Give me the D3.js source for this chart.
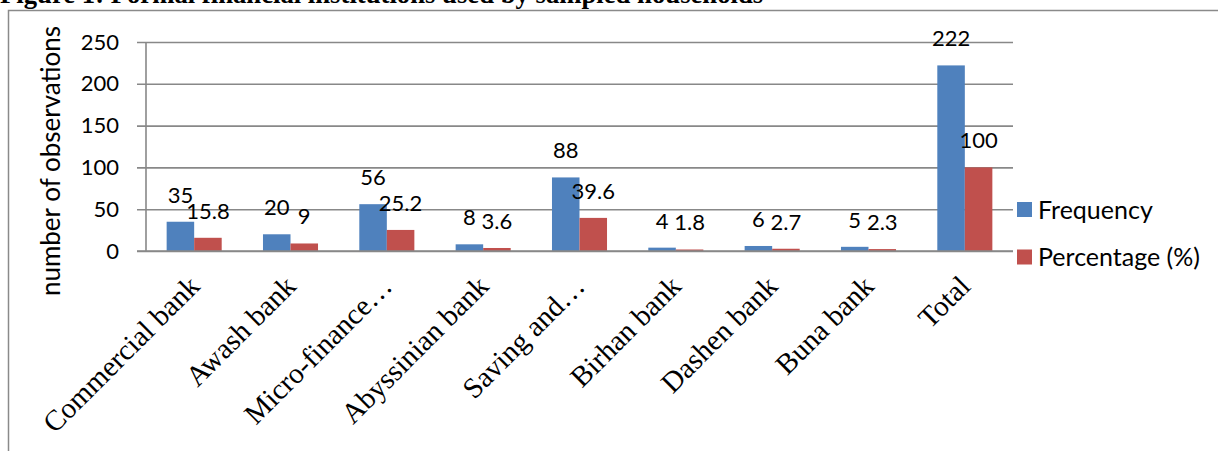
<!DOCTYPE html>
<html>
<head>
<meta charset="utf-8">
<script src="https://cdn.jsdelivr.net/npm/d3@7"></script>
<style>
  body { margin: 0; background: #fff; }
  svg { display: block; }
  .num { font-family: Lato, "Noto Sans", sans-serif; font-size: 22px; fill: #000; }
  .cat { font-family: "Liberation Serif", "Times New Roman", serif; font-size: 29px; fill: #000; }
</style>
</head>
<body>
<svg id="chart" width="1218" height="451"></svg>
<script>
// chart data
const categories = ["Commercial bank", "Awash bank", "Micro-finance\u2026", "Abyssinian bank",
    "Saving and\u2026", "Birhan bank", "Dashen bank", "Buna bank", "Total"];
const seriesNames = ["Frequency", "Percentage (%)"];
const frequency = [35, 20, 56, 8, 88, 4, 6, 5, 222];
const percentage = [15.8, 9, 25.2, 3.6, 39.6, 1.8, 2.7, 2.3, 100];
const yTicks = [0, 50, 100, 150, 200, 250];
const colors = ["#4f81bd", "#c0504d"];

drawChart(d3.select('#chart'));

function drawChart( svg ) {

    // plot area
    let left = 146, right = 1013, top = 42, bottom = 251;

    let x = d3.scaleBand()
        .domain( categories )
        .range( [left, right] );
    let xs = d3.scaleBand()
        .domain( seriesNames )
        .range( [0, x.bandwidth()] )
        .paddingOuter( 0.75 );
    let y = d3.scaleLinear()
        .domain( [0, 250] )
        .range( [bottom, top] );
    let color = d3.scaleOrdinal()
        .domain( seriesNames )
        .range( colors );

    // outer frame of the figure and the cut-off caption
    svg.append('path')
        .attr('d', 'M8.5,451 V10.5 H1218')
        .attr('fill', 'none')
        .attr('stroke', '#8a8a8a')
        .attr('stroke-width', 1.5);
    svg.append('text')
        .attr('x', 0)
        .attr('y', 3)
        .style('font-family', '"Liberation Serif", "Times New Roman", serif')
        .style('font-weight', 'bold')
        .style('font-size', '26.7px')
        .text('Figure 1: Formal financial institutions used by sampled households');

    // gridlines + value axis
    let yAxis = d3.axisLeft( y )
        .tickValues( yTicks )
        .tickSize( -(right - left + 9) )
        .tickPadding( 18 );
    let gy = svg.append('g')
        .attr('transform', 'translate(' + (left - 9) + ',0)')
        .call( yAxis );
    gy.select('.domain').remove();
    gy.selectAll('line')
        .attr('stroke', '#888')
        .attr('stroke-width', 1.6);
    gy.selectAll('text')
        .attr('class', 'num')
        .attr('font-family', null)
        .attr('font-size', null);

    svg.append('line')
        .attr('x1', left).attr('x2', left)
        .attr('y1', top).attr('y2', bottom)
        .attr('stroke', '#888')
        .attr('stroke-width', 1.6);

    svg.append('text')
        .attr('class', 'num')
        .attr('transform', 'translate(60,161) rotate(-90)')
        .attr('text-anchor', 'middle')
        .style('font-size', '26px')
        .text('number of observations');

    // bars
    let rows = categories.map(function(c, i) {
        return { cat: c, values: [frequency[i], percentage[i]] };
    });
    let groups = svg.append('g')
        .selectAll('g')
        .data( rows )
        .enter()
        .append('g')
            .attr('transform', function(d){ return 'translate(' + x(d.cat) + ',0)'; });

    let cells = groups.selectAll('g')
        .data( function(d){ return d.values.map(function(v, j){ return {s: seriesNames[j], v: v}; }); } )
        .enter()
        .append('g');

    cells.append('rect')
        .attr('x', function(d){ return xs(d.s); })
        .attr('width', xs.bandwidth())
        .attr('y', function(d){ return y(d.v); })
        .attr('height', function(d){ return bottom - y(d.v); })
        .attr('fill', function(d){ return color(d.s); });

    // redraw the baseline over the bars
    svg.append('line')
        .attr('x1', left - 9).attr('x2', right)
        .attr('y1', bottom).attr('y2', bottom)
        .attr('stroke', '#888')
        .attr('stroke-width', 1.6);

    // data labels
    cells.append('text')
        .attr('class', 'num')
        .attr('text-anchor', 'middle')
        .attr('x', function(d){ return xs(d.s) + xs.bandwidth() / 2; })
        .attr('y', function(d){ return y(d.v) - 19; })
        .text( function(d){ return d.v; } );

    // category axis, labels at -45 degrees
    let gx = svg.append('g')
        .attr('transform', 'translate(0,' + bottom + ')')
        .call( d3.axisBottom( x ).tickSize( 0 ) );
    gx.select('.domain').remove();
    gx.selectAll('text')
        .attr('class', 'cat')
        .attr('font-family', null)
        .attr('font-size', null)
        .attr('y', 0)
        .attr('dy', 0)
        .attr('text-anchor', 'end')
        .attr('transform', 'translate(7,37) rotate(-45)');

    // legend
    let legend = svg.append('g')
        .selectAll('g')
        .data( seriesNames )
        .enter()
        .append('g')
            .attr('transform', function(d, i){ return 'translate(1017,' + (202 + i * 47.5) + ')'; });
    legend.append('rect')
        .attr('width', 15)
        .attr('height', 15)
        .attr('fill', function(d){ return color(d); });
    legend.append('text')
        .attr('class', 'num')
        .attr('x', 21)
        .attr('y', 8)
        .attr('dy', '0.35em')
        .style('font-size', '25px')
        .text( function(d){ return d; } );
}
</script>
</body>
</html>
